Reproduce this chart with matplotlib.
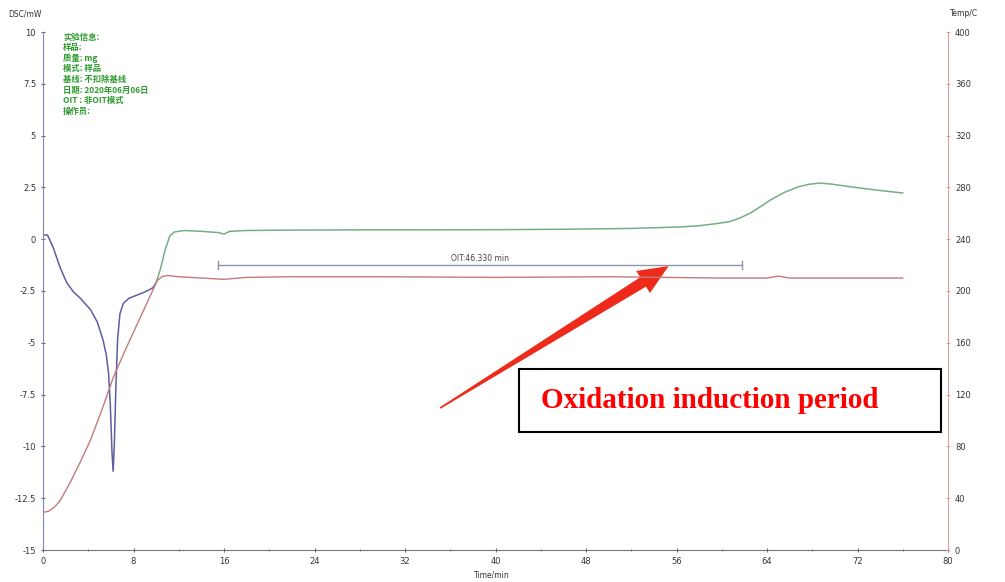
import matplotlib
matplotlib.use("Agg")
import matplotlib.pyplot as plt
import numpy as np
from matplotlib.patches import Rectangle, Polygon
from matplotlib.ticker import MultipleLocator

# ---------------- data ----------------
t_blue = [0, 0.4, 0.9, 1.5, 2.1, 2.7, 3.3, 4.2, 4.8, 5.3, 5.6, 5.8, 5.95, 6.1, 6.2,
          6.3, 6.45, 6.6, 6.8, 7.1, 7.6, 8.3, 9.0, 9.7, 10.0]
dsc_blue = [0.2, 0.2, -0.4, -1.35, -2.1, -2.55, -2.85, -3.4, -4.0, -4.85, -5.6, -6.5,
            -8.0, -10.3, -11.2, -10.0, -7.0, -4.8, -3.6, -3.1, -2.85, -2.7, -2.55, -2.35, -2.1]

t_green = [10.0, 10.4, 10.8, 11.2, 11.6, 12.5, 14, 15.5, 16.0, 16.5, 18, 22, 28, 34, 40,
           46, 52, 56.3, 58, 59.5, 60.7, 61.5, 62.5, 63.5, 64.3, 65.5, 66.7, 67.7, 68.7,
           69.7, 71, 72.2, 74, 76]
dsc_green = [-2.1, -1.4, -0.5, 0.15, 0.35, 0.42, 0.38, 0.32, 0.25, 0.38, 0.42, 0.44, 0.45,
             0.45, 0.46, 0.48, 0.52, 0.59, 0.65, 0.75, 0.85, 1.0, 1.25, 1.6, 1.89, 2.25,
             2.52, 2.65, 2.71, 2.66, 2.56, 2.47, 2.35, 2.23]

t_temp = [0, 0.5, 1.0, 1.5, 2.4, 3.3, 4.2, 5.2, 6.2, 7.2, 8.2, 9.2, 10.1, 10.5, 11.0, 12,
          14, 16, 18, 22, 30, 40, 50, 60, 64, 65, 66, 70, 76]
temp = [29, 30, 33, 38, 52, 68, 85, 108, 133, 153, 172, 191, 208, 211, 212, 211, 210, 209,
        210.5, 211, 211, 210.5, 211, 210, 210, 211.5, 210, 210, 210]

oit_start = 15.5
oit_end = 61.83
oit_label = "OIT:46.330 min"

info_lines = ["实验信息:", "样品:", "质量: mg", "模式: 样品", "基线: 不扣除基线",
              "日期: 2020年06月06日", "OIT : 非OIT模式", "操作员:"]

x_ticks = list(range(0, 81, 8))
left_ticks = [10, 7.5, 5, 2.5, 0, -2.5, -5, -7.5, -10, -12.5, -15]
right_ticks = list(range(0, 401, 40))

arrow_tail = (35.1, -8.15)
arrow_tip = (55.3, -1.3)

# ---------------- figure ----------------
plt.rcParams['font.family'] = ['DejaVu Sans']
fig = plt.figure(figsize=(10.05, 5.82), dpi=100)
ax = fig.add_axes([43 / 1005, 1 - 550 / 582, (948 - 43) / 1005, (550 - 32) / 582])
ax2 = ax.twinx()

ax.plot(t_blue, dsc_blue, color='#5e5ea0', lw=1.1)
ax.plot(t_green, dsc_green, color='#72b083', lw=1.1)
ax2.plot(t_temp, temp, color='#c47a7a', lw=1.0)

ax.set_xlim(0, 80)
ax.set_ylim(-15, 10)
ax2.set_ylim(0, 400)

# OIT bar
bar_y = -1.25
ax.plot([oit_start, oit_end], [bar_y, bar_y], color='#8a96a8', lw=1.0)
ax.plot([oit_start, oit_start], [bar_y - 0.2, bar_y + 0.2], color='#8a96a8', lw=1.0)
ax.plot([oit_end, oit_end], [bar_y - 0.2, bar_y + 0.2], color='#8a96a8', lw=1.0)
ax.text((oit_start + oit_end) / 2, bar_y + 0.3, oit_label, fontsize=5.5, color='#444444',
        ha='center', va='center')

# spines
ax.spines['top'].set_visible(False)
ax2.spines['top'].set_visible(False)
ax.spines['left'].set_color('#8088aa')
ax.spines['bottom'].set_color('#777777')
ax2.spines['right'].set_color('#d8a0a0')
ax2.spines['left'].set_visible(False)
ax2.spines['bottom'].set_visible(False)
ax.spines['right'].set_visible(False)

ax.set_xticks(x_ticks)
ax.xaxis.set_minor_locator(MultipleLocator(4))
ax.set_yticks(left_ticks)
ax.set_yticklabels([f"{v:g}" for v in left_ticks])
ax2.set_yticks(right_ticks)
ax.tick_params(axis='both', which='major', labelsize=6, length=3, direction='inout',
               colors='#666666', labelcolor='#333333')
ax.tick_params(axis='x', which='minor', length=2, direction='inout', colors='#666666')
ax2.tick_params(axis='y', which='major', labelsize=6, length=3, direction='inout',
                colors='#d8a0a0', labelcolor='#333333')

# axis labels
fig.text(8 / 1005, 1 - 14 / 582, "DSC/mW", fontsize=5.5, color='#333333', va='center')
fig.text(950 / 1005, 1 - 14 / 582, "Temp/C", fontsize=5.5, color='#333333', va='center')
fig.text(492 / 1005, 1 - 575 / 582, "Time/min", fontsize=5.5, color='#333333',
         va='center', ha='center')

# info block
for i, line in enumerate(info_lines):
    fig.text(63 / 1005, 1 - (37 + i * 10.6) / 582, line, fontsize=6, color='#2e9a2e',
             va='center', family=['Noto Sans CJK SC', 'DejaVu Sans'], fontweight='bold')

# red arrow (tapered shaft, wide near head) built in display space
T = ax.transData.transform(arrow_tail)
P = ax.transData.transform(arrow_tip)
u = (P - T) / np.linalg.norm(P - T)
n = np.array([-u[1], u[0]])
L, W, w, tw = 30.0, 13.0, 5.5, 0.8
B = P - u * L
Bn = P - u * (L - 6)
verts_disp = np.array([T + n * tw, B + n * w, B + n * W, P, B - n * W, B - n * w, T - n * tw])
verts = ax.transData.inverted().transform(verts_disp)
ax.add_patch(Polygon(verts, closed=True, facecolor='#ee2a1a', edgecolor='none', zorder=4))

# text box
fig.patches.append(Rectangle((519 / 1005, 1 - 432 / 582), (941 - 519) / 1005, 63 / 582,
                             transform=fig.transFigure, fill=True, facecolor='white',
                             edgecolor='black', lw=1.5, zorder=5))
fig.text(541 / 1005, 1 - 401 / 582, "Oxidation induction period", fontsize=21,
         color='#ff0000', fontweight='bold', family='Liberation Serif', va='center',
         zorder=6)

fig.savefig("out.png", dpi=100)
